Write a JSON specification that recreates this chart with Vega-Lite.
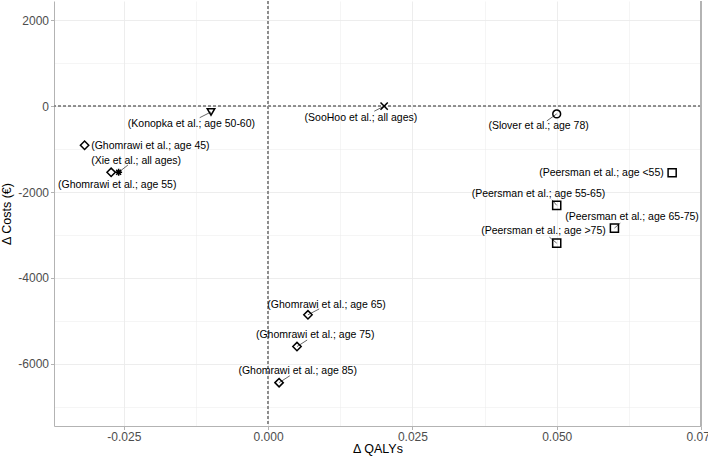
{
  "$schema": "https://vega.github.io/schema/vega-lite/v6.json",
  "autosize": {"type": "none"},
  "width": 647,
  "height": 425,
  "padding": {"left": 54, "top": 1, "right": 7, "bottom": 31},
  "background": "white",
  "config": {
    "locale": {"number": {"decimal": ".", "thousands": "", "grouping": [3], "currency": ["", ""], "minus": "-"}},
    "view": {"stroke": null},
    "axis": {
      "labelFont": "Liberation Sans", "titleFont": "Liberation Sans",
      "labelFontSize": 12, "labelColor": "#4d4d4d",
      "titleFontSize": 12.5, "titleFontWeight": "normal", "titleColor": "#000000",
      "domainColor": "#b3b3b3", "tickColor": "#b3b3b3", "gridColor": "#ebebeb",
      "tickSize": 3.5, "labelPadding": 2, "domainWidth": 1, "tickWidth": 1
    }
  },
  "data": {"values": [
    {"study": "(Ghomrawi et al.; age 45)", "group": "Ghomrawi", "x": -0.0318, "y": -910, "lx": -0.0204, "ly": -927},
    {"study": "(Ghomrawi et al.; age 55)", "group": "Ghomrawi", "x": -0.0272, "y": -1540, "lx": -0.02615, "ly": -1828},
    {"study": "(Xie et al.; all ages)", "group": "Xie", "x": -0.0259, "y": -1540, "lx": -0.02287, "ly": -1284, "sx": -0.02429, "sy": -1371},
    {"study": "(Konopka et al.; age 50-60)", "group": "Konopka", "x": -0.0099, "y": -135, "lx": -0.01329, "ly": -404, "sx": -0.01185, "sy": -268},
    {"study": "(SooHoo et al.; all ages)", "group": "SooHoo", "x": 0.0201, "y": 0, "lx": 0.01608, "ly": -280, "sx": 0.01839, "sy": -117},
    {"study": "(Slover et al.; age 78)", "group": "Slover", "x": 0.05, "y": -180, "lx": 0.04686, "ly": -467, "sx": 0.04829, "sy": -343},
    {"study": "(Peersman et al.; age <55)", "group": "Peersman", "x": 0.07, "y": -1550, "lx": 0.05776, "ly": -1555},
    {"study": "(Peersman et al.; age 55-65)", "group": "Peersman", "x": 0.05, "y": -2310, "lx": 0.04684, "ly": -2039, "sx": 0.04917, "sy": -2180},
    {"study": "(Peersman et al.; age 65-75)", "group": "Peersman", "x": 0.06, "y": -2840, "lx": 0.06305, "ly": -2586, "sx": 0.06102, "sy": -2724},
    {"study": "(Peersman et al.; age >75)", "group": "Peersman", "x": 0.05, "y": -3190, "lx": 0.04771, "ly": -2919, "sx": 0.04875, "sy": -3052},
    {"study": "(Ghomrawi et al.; age 65)", "group": "Ghomrawi", "x": 0.0069, "y": -4860, "lx": 0.01013, "ly": -4623, "sx": 0.00885, "sy": -4723},
    {"study": "(Ghomrawi et al.; age 75)", "group": "Ghomrawi", "x": 0.005, "y": -5600, "lx": 0.00815, "ly": -5330, "sx": 0.00677, "sy": -5447},
    {"study": "(Ghomrawi et al.; age 85)", "group": "Ghomrawi", "x": 0.0019, "y": -6440, "lx": 0.00512, "ly": -6180, "sx": 0.00376, "sy": -6280}
  ]},
  "layer": [
    {
      "mark": {"type": "rule", "color": "#8c8c8c", "strokeDash": [3, 2], "strokeWidth": 0.6},
      "encoding": {"x": {"datum": 0, "type": "quantitative", "scale": {"domain": [-0.0371, 0.075], "nice": false, "zero": false}}}
    },
    {
      "mark": {"type": "rule", "color": "#8c8c8c", "strokeDash": [3, 2], "strokeWidth": 0.6},
      "encoding": {"y": {"datum": 0, "type": "quantitative", "scale": {"domain": [-7450, 2450], "nice": false, "zero": false}}}
    },
    {
      "mark": {"type": "rule", "color": "#b3b3b3", "strokeWidth": 1},
      "encoding": {"x": {"datum": 0.075, "type": "quantitative", "scale": {"domain": [-0.0371, 0.075], "nice": false, "zero": false}}}
    },
    {
      "transform": [{"filter": "isValid(datum.sx)"}],
      "mark": {"type": "rule", "color": "#000000", "strokeWidth": 0.6},
      "encoding": {
        "x": {"field": "x", "type": "quantitative", "scale": {"domain": [-0.0371, 0.075], "nice": false, "zero": false}},
        "y": {"field": "y", "type": "quantitative", "scale": {"domain": [-7450, 2450], "nice": false, "zero": false}},
        "x2": {"field": "sx"},
        "y2": {"field": "sy"}
      }
    },
    {
      "mark": {"type": "point", "filled": false, "color": "#000000", "strokeWidth": 1.5, "opacity": 1},
      "encoding": {
        "x": {"field": "x", "type": "quantitative", "title": "Δ QALYs",
          "scale": {"domain": [-0.0371, 0.075], "nice": false, "zero": false},
          "axis": {
            "values": [-0.025, -0.0125, 0, 0.0125, 0.025, 0.0375, 0.05, 0.0625, 0.075],
            "format": ".3f",
            "labelExpr": "abs(datum.value*40 - round(datum.value*40)) < 0.001 ? datum.label : ''",
            "tickColor": {"condition": {"test": "abs(datum.value*40 - round(datum.value*40)) > 0.001", "value": "transparent"}, "value": "#b3b3b3"},
            "gridWidth": {"condition": {"test": "abs(datum.value*40 - round(datum.value*40)) > 0.001", "value": 0.5}, "value": 0.9},
            "grid": true, "labelFlush": false, "labelOverlap": false, "labelPadding": 1.5, "titlePadding": 0
          }},
        "y": {"field": "y", "type": "quantitative", "title": "Δ Costs (€)",
          "scale": {"domain": [-7450, 2450], "nice": false, "zero": false},
          "axis": {
            "values": [-7000, -6000, -5000, -4000, -3000, -2000, -1000, 0, 1000, 2000],
            "labelExpr": "datum.value % 2000 === 0 ? datum.label : ''",
            "tickColor": {"condition": {"test": "datum.value % 2000 !== 0", "value": "transparent"}, "value": "#b3b3b3"},
            "gridWidth": {"condition": {"test": "datum.value % 2000 !== 0", "value": 0.5}, "value": 0.9},
            "grid": true, "labelFlush": false, "labelOverlap": false, "titlePadding": 4
          }},
        "shape": {"field": "group", "type": "nominal", "legend": null,
          "scale": {"domain": ["Ghomrawi", "Peersman", "Slover", "Konopka", "SooHoo", "Xie"],
            "range": ["diamond", "square", "circle", "triangle-down", "M-1,-1L1,1M-1,1L1,-1", "M-1,0L1,0M0,-1L0,1M-0.7,-0.7L0.7,0.7M-0.7,0.7L0.7,-0.7"]}},
        "size": {"field": "group", "type": "nominal", "legend": null,
          "scale": {"domain": ["Ghomrawi", "Peersman", "Slover", "Konopka", "SooHoo", "Xie"],
            "range": [70, 48, 42, 80, 60, 100]}}
      }
    },
    {
      "mark": {"type": "text", "font": "Liberation Sans", "fontSize": 10.5, "color": "#000000", "align": "center", "baseline": "middle"},
      "encoding": {
        "x": {"field": "lx", "type": "quantitative", "scale": {"domain": [-0.0371, 0.075], "nice": false, "zero": false}},
        "y": {"field": "ly", "type": "quantitative", "scale": {"domain": [-7450, 2450], "nice": false, "zero": false}},
        "text": {"field": "study", "type": "nominal"}
      }
    }
  ]
}
